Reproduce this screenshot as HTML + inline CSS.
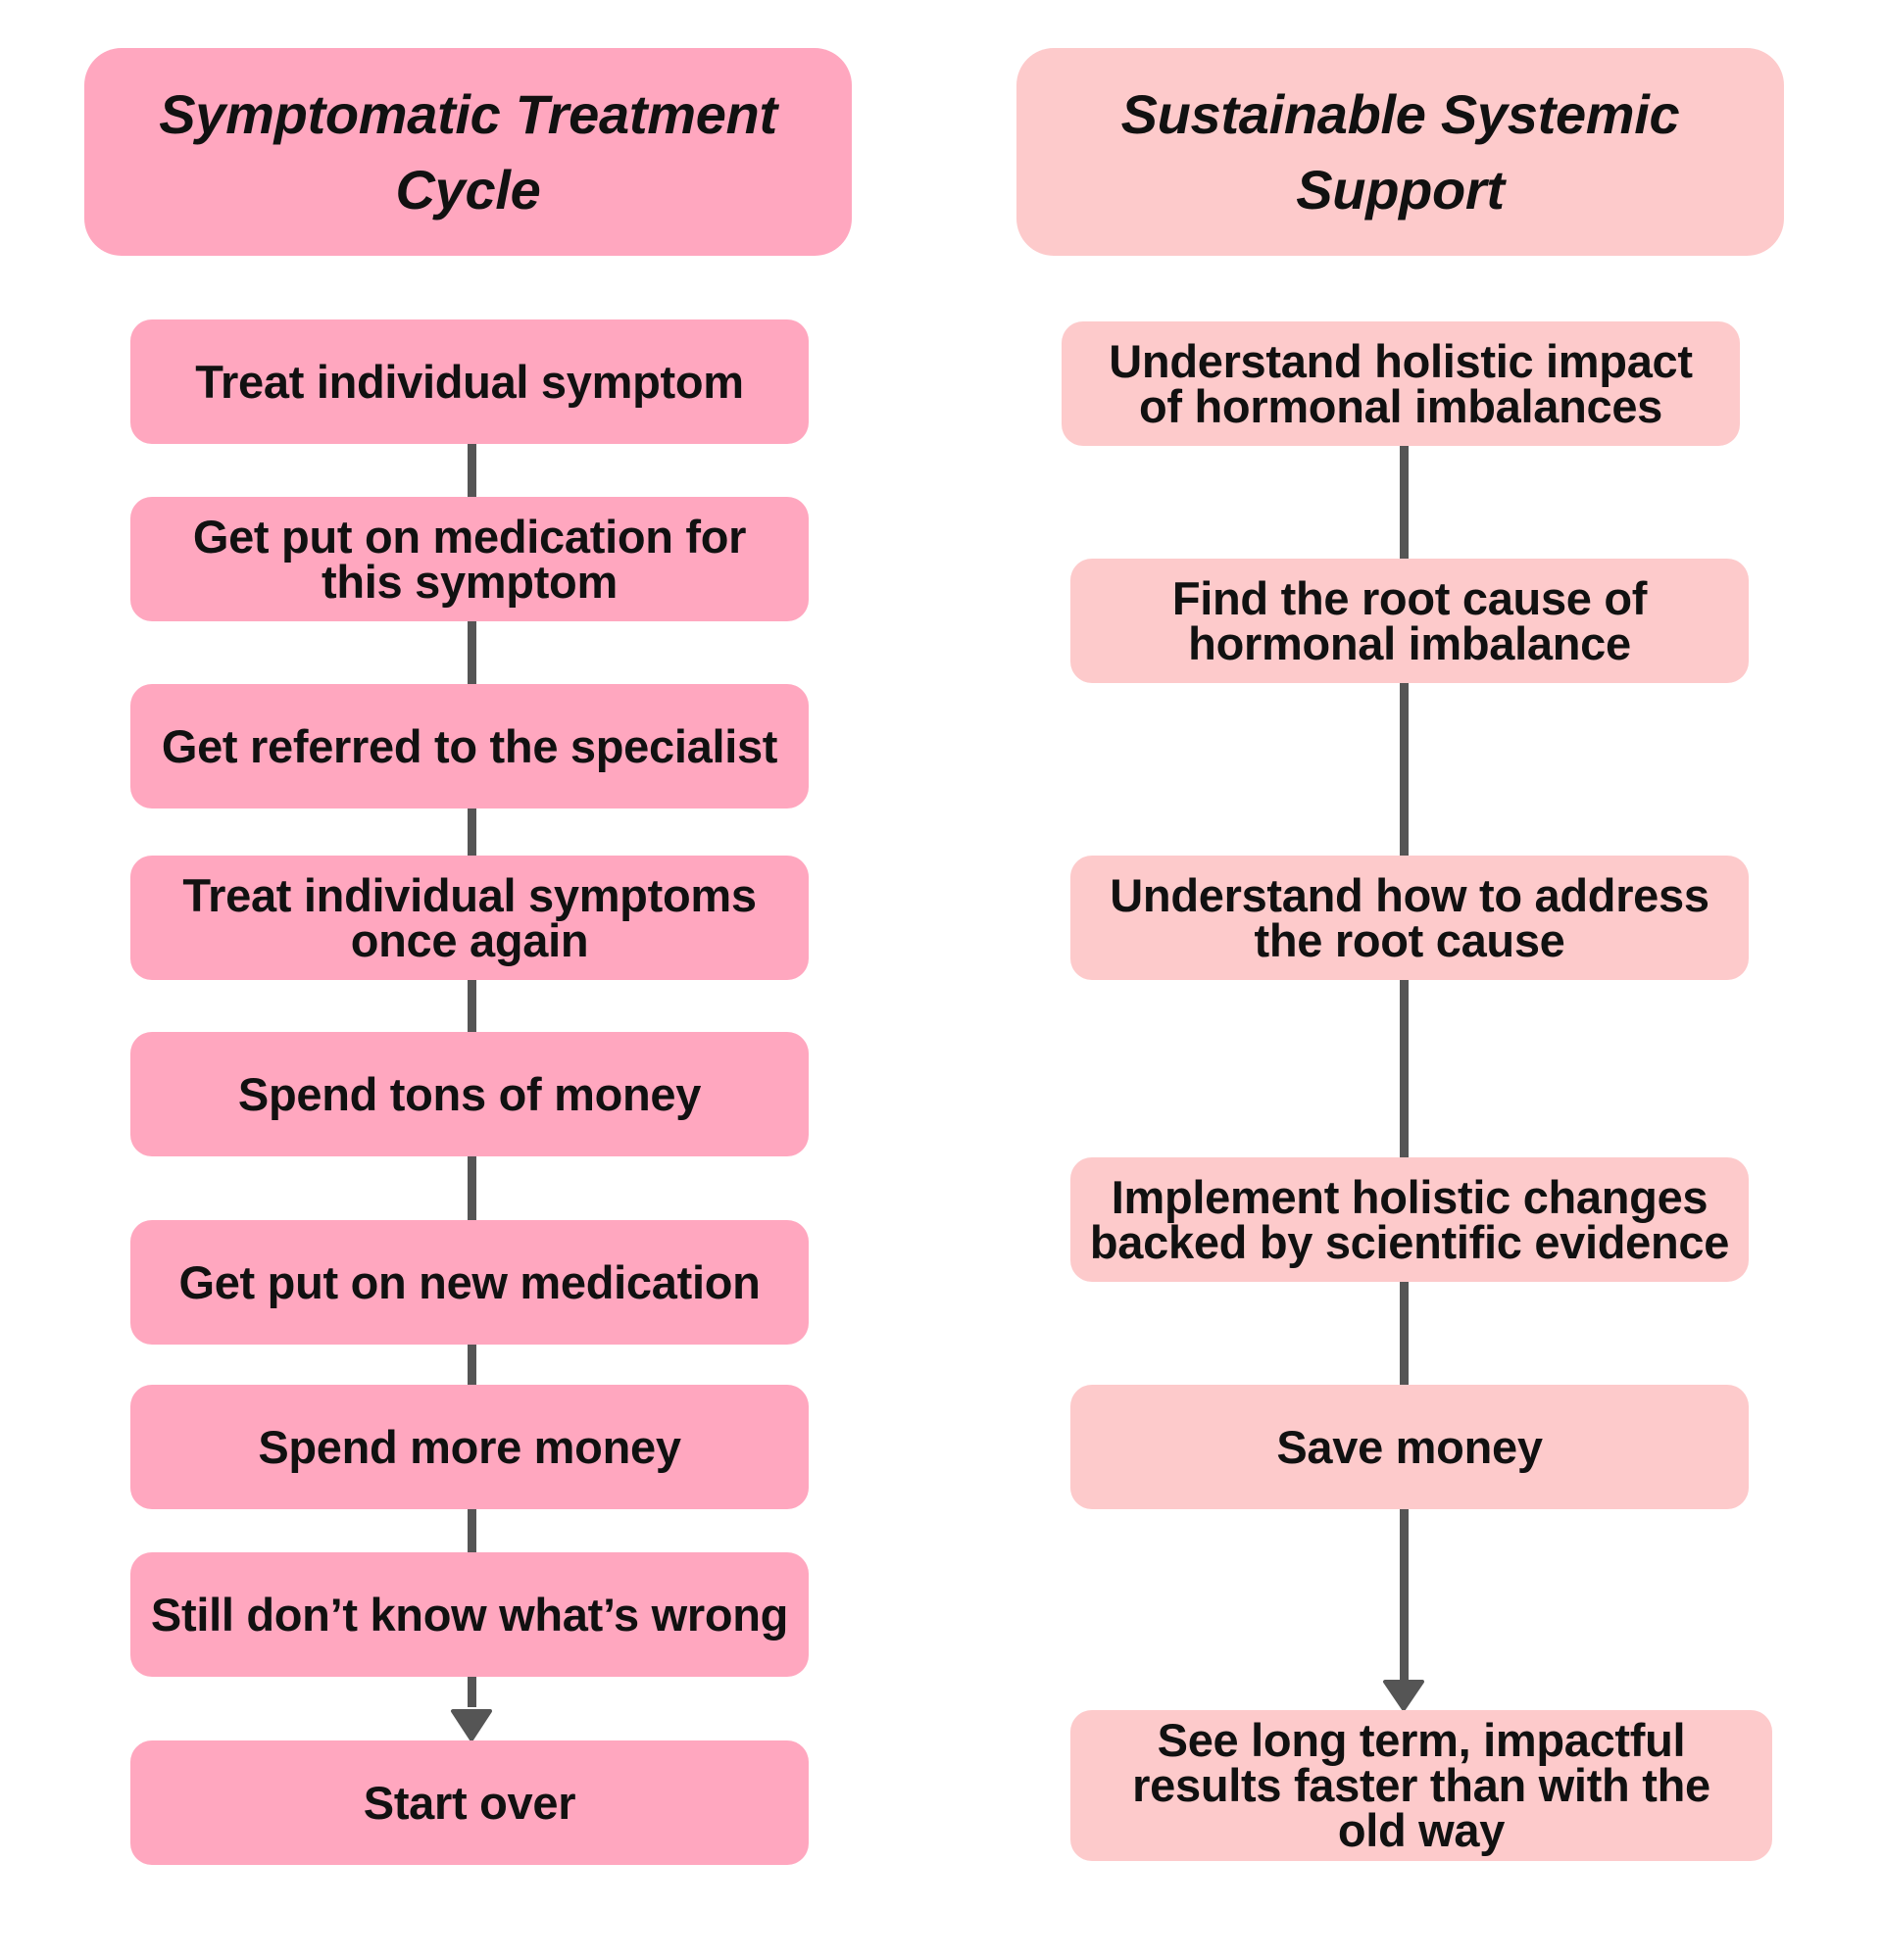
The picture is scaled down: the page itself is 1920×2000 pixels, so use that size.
<!DOCTYPE html>
<html><head><meta charset="utf-8"><style>
html,body{margin:0;padding:0;background:#fff;}
body{width:1920px;height:2000px;position:relative;overflow:hidden;font-family:"Liberation Sans",sans-serif;}
.b{position:absolute;display:flex;align-items:center;justify-content:center;text-align:center;font-weight:bold;color:#111;font-size:47px;line-height:46px;border-radius:22px;box-sizing:border-box;padding:0 2px;letter-spacing:-0.3px;}
.l{background:#FFA7BF;}
.r{background:#FDCACB;}
.h{font-style:italic;font-size:56px;line-height:77px;border-radius:38px;}
.ln{position:absolute;width:9px;background:#555;}
</style></head><body>
<div class="ln" style="left:477px;top:452px;height:1290px"></div>
<div class="ln" style="left:1428px;top:453px;height:1262px"></div>
<svg style="position:absolute;left:0;top:0" width="1920" height="2000">
<polygon points="462,1746 500,1746 481,1775" fill="#555" stroke="#555" stroke-width="4" stroke-linejoin="round"/>
<polygon points="1413,1716 1451,1716 1432,1744" fill="#555" stroke="#555" stroke-width="4" stroke-linejoin="round"/>
</svg>
<div class="b l h" style="left:86px;top:49px;width:783px;height:212px">Symptomatic Treatment<br>Cycle</div>
<div class="b r h" style="left:1037px;top:49px;width:783px;height:212px">Sustainable Systemic<br>Support</div>

<div class="b l" style="left:133px;top:326px;width:692px;height:127px">Treat individual symptom</div>
<div class="b l" style="left:133px;top:507px;width:692px;height:127px">Get put on medication for<br>this symptom</div>
<div class="b l" style="left:133px;top:698px;width:692px;height:127px">Get referred to the specialist</div>
<div class="b l" style="left:133px;top:873px;width:692px;height:127px">Treat individual symptoms<br>once again</div>
<div class="b l" style="left:133px;top:1053px;width:692px;height:127px">Spend tons of money</div>
<div class="b l" style="left:133px;top:1245px;width:692px;height:127px">Get put on new medication</div>
<div class="b l" style="left:133px;top:1413px;width:692px;height:127px">Spend more money</div>
<div class="b l" style="left:133px;top:1584px;width:692px;height:127px">Still don’t know what’s wrong</div>
<div class="b l" style="left:133px;top:1776px;width:692px;height:127px">Start over</div>

<div class="b r" style="left:1083px;top:328px;width:692px;height:127px">Understand holistic impact<br>of hormonal imbalances</div>
<div class="b r" style="left:1092px;top:570px;width:692px;height:127px">Find the root cause of<br>hormonal imbalance</div>
<div class="b r" style="left:1092px;top:873px;width:692px;height:127px">Understand how to address<br>the root cause</div>
<div class="b r" style="left:1092px;top:1181px;width:692px;height:127px">Implement holistic changes<br>backed by scientific evidence</div>
<div class="b r" style="left:1092px;top:1413px;width:692px;height:127px">Save money</div>
<div class="b r" style="left:1092px;top:1745px;width:716px;height:154px">See long term, impactful<br>results faster than with the<br>old way</div>
</body></html>
